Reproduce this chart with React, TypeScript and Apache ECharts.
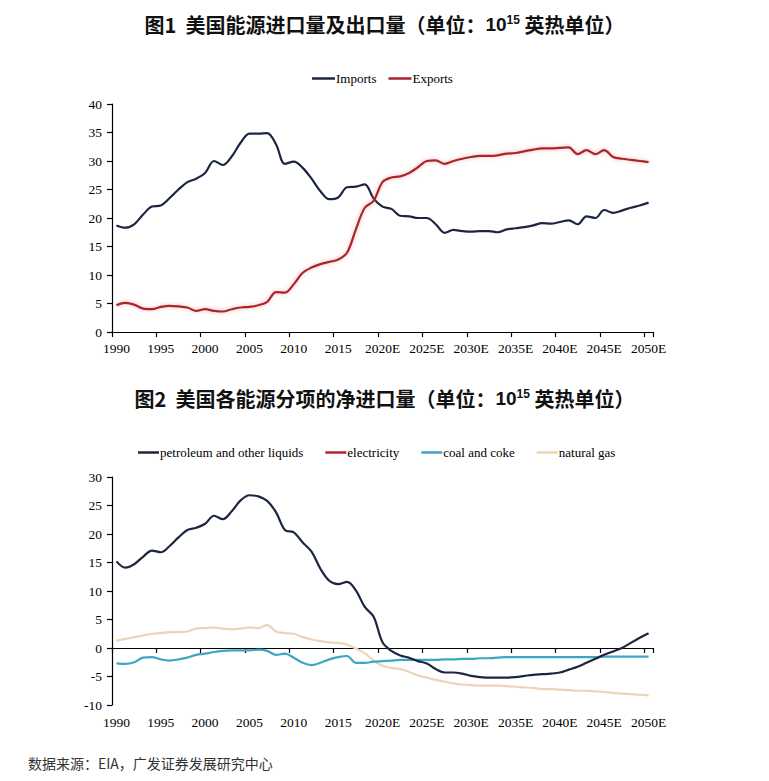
import React, { useEffect, useRef } from "react";
import * as echarts from "echarts";

const years = [
  "1990", "1991", "1992", "1993", "1994", "1995", "1996", "1997", "1998", "1999",
  "2000", "2001", "2002", "2003", "2004", "2005", "2006", "2007", "2008", "2009",
  "2010", "2011", "2012", "2013", "2014", "2015", "2016", "2017", "2018", "2019",
  "2020E", "2021E", "2022E", "2023E", "2024E", "2025E", "2026E", "2027E", "2028E", "2029E",
  "2030E", "2031E", "2032E", "2033E", "2034E", "2035E", "2036E", "2037E", "2038E", "2039E",
  "2040E", "2041E", "2042E", "2043E", "2044E", "2045E", "2046E", "2047E", "2048E", "2049E",
  "2050E",
];

const imports = [
  18.7, 18.3, 18.9, 20.6, 22.0, 22.2, 23.5, 25.0, 26.3, 26.9,
  27.9, 30.0, 29.3, 30.8, 33.2, 34.8, 34.8, 34.9, 32.9, 29.5,
  29.9, 28.8, 26.9, 24.7, 23.3, 23.6, 25.4, 25.5, 25.9, 23.4,
  22.0, 21.6, 20.4, 20.3, 20.0, 20.0, 18.9, 17.4, 17.9, 17.7,
  17.6, 17.7, 17.7, 17.5, 18.0, 18.2, 18.4, 18.7, 19.1, 19.0,
  19.3, 19.6, 18.9, 20.3, 20.0, 21.4, 20.9, 21.3, 21.8, 22.2,
  22.7,
];

const exportsData = [
  4.7, 5.1, 4.8, 4.1, 4.0, 4.4, 4.6, 4.5, 4.3, 3.7,
  4.0, 3.7, 3.6, 4.0, 4.3, 4.4, 4.7, 5.3, 7.0, 6.9,
  8.4, 10.4, 11.3, 11.9, 12.3, 12.7, 13.9, 18.0, 21.8, 23.0,
  26.3, 27.1, 27.3, 27.9, 28.9, 30.0, 30.1, 29.5, 30.0, 30.4,
  30.7, 30.9, 30.9, 31.0, 31.3, 31.4, 31.7, 32.0, 32.2, 32.2,
  32.3, 32.4, 31.2, 31.9, 31.2, 31.9, 30.7, 30.4, 30.2, 30.0,
  29.8,
];

const petroleum = [
  15.2, 14.1, 14.7, 16.0, 17.1, 16.8, 17.9, 19.4, 20.7, 21.1,
  21.8, 23.2, 22.6, 24.0, 25.9, 26.8, 26.6, 25.8, 23.8, 20.7,
  20.3, 18.5, 16.9, 13.9, 11.8, 11.2, 11.6, 10.1, 7.2, 5.5,
  1.0, -0.5, -1.3, -1.7, -2.3, -2.7, -3.7, -4.3, -4.3, -4.5,
  -4.9, -5.1, -5.2, -5.2, -5.2, -5.1, -4.9, -4.7, -4.6, -4.5,
  -4.3, -3.8, -3.3, -2.6, -1.9, -1.2, -0.6, 0.0, 0.9, 1.8,
  2.6,
];

const electricity = [
  0.1, 0.1, 0.1, 0.1, 0.1, 0.1, 0.1, 0.1, 0.1, 0.1,
  0.1, 0.1, 0.1, 0.1, 0.1, 0.1, 0.1, 0.1, 0.1, 0.1,
  0.1, 0.1, 0.1, 0.1, 0.1, 0.1, 0.1, 0.1, 0.1, 0.1,
  0.1, 0.1, 0.1, 0.1, 0.1, 0.1, 0.1, 0.1, 0.1, 0.1,
  0.1, 0.1, 0.1, 0.1, 0.1, 0.1, 0.1, 0.1, 0.1, 0.1,
  0.1, 0.1, 0.1, 0.1, 0.1, 0.1, 0.1, 0.1, 0.1, 0.1,
  0.1,
];

const coal = [
  -2.7, -2.8, -2.5, -1.7, -1.6, -2.0, -2.2, -2.0, -1.7, -1.2,
  -1.0, -0.7, -0.5, -0.4, -0.4, -0.4, -0.3, -0.5, -1.2, -1.0,
  -1.7, -2.6, -3.0, -2.6, -2.0, -1.6, -1.4, -2.6, -2.6, -2.4,
  -2.3, -2.2, -2.1, -2.1, -2.1, -2.1, -2.1, -2.0, -2.0, -1.9,
  -1.9, -1.8, -1.8, -1.7, -1.6, -1.6, -1.6, -1.6, -1.6, -1.6,
  -1.6, -1.6, -1.6, -1.6, -1.6, -1.5, -1.5, -1.5, -1.5, -1.5,
  -1.5,
];

const naturalGas = [
  1.3, 1.6, 1.9, 2.2, 2.5, 2.6, 2.8, 2.8, 2.9, 3.4,
  3.5, 3.6, 3.4, 3.3, 3.4, 3.6, 3.5, 4.0, 2.9, 2.6,
  2.5, 1.9, 1.5, 1.2, 1.0, 0.9, 0.6, -0.1, -0.9, -2.2,
  -3.1, -3.5, -3.7, -4.2, -4.8, -5.2, -5.6, -5.9, -6.2, -6.4,
  -6.5, -6.6, -6.6, -6.6, -6.7, -6.8, -6.9, -7.0, -7.2, -7.2,
  -7.3, -7.4, -7.5, -7.5, -7.6, -7.7, -7.9, -8.0, -8.1, -8.2,
  -8.3,
];

const Y1_TICKS = { min: 0, max: 40, interval: 5 };
const Y2_TICKS = { min: -10, max: 30, interval: 5 };

const serif = "Liberation Serif";
const cjk = "Noto Sans CJK SC";

function titleText(label: string, body: string) {
  return `{a|${label}  ${body}（单位：}{b|10}{s|15}{a| 英热单位）}`;
}

const titleRich = {
  a: { fontSize: 20, fontWeight: "bold", fontFamily: cjk, color: "#111" },
  b: { fontSize: 19, fontWeight: "bold", fontFamily: "Liberation Sans", color: "#111" },
  s: {
    fontSize: 12,
    fontWeight: "bold",
    fontFamily: "Liberation Sans",
    color: "#111",
    verticalAlign: "top",
    padding: [0, 0, 8, 0],
  },
};

export default function App() {
  const ref = useRef<HTMLDivElement>(null);

  useEffect(() => {
    if (!ref.current) return;
    const chart = echarts.init(ref.current, undefined, { renderer: "svg" });

    const axisLineStyle = { color: "#000", width: 1.2 };
    const axisLabelStyle = { fontFamily: serif, fontSize: 13.5, color: "#000" };

    const catAxisBase = {
      type: "category" as const,
      data: years,
      boundaryGap: true,
    };

    const option: any = {
      animation: false,
      backgroundColor: "#fff",
      title: [
        {
          text: titleText("图1", "美国能源进口量及出口量"),
          left: "center",
          top: 9,
          textStyle: { rich: titleRich },
        },
        {
          text: titleText("图2", "美国各能源分项的净进口量"),
          left: "center",
          top: 383,
          textStyle: { rich: titleRich },
        },
      ],
      legend: [
        {
          data: ["Imports", "Exports"],
          left: 307,
          top: 67,
          icon: "rect",
          itemWidth: 23,
          itemHeight: 2.5,
          itemGap: 12,
          textStyle: { fontFamily: serif, fontSize: 13, color: "#000", padding: [0, 0, 0, -4] },
        },
        {
          data: ["petroleum and other liquids", "electricity", "coal and coke", "natural gas"],
          left: 133,
          top: 441,
          icon: "rect",
          itemWidth: 21,
          itemHeight: 2.5,
          itemGap: 22,
          textStyle: { fontFamily: serif, fontSize: 13, color: "#000", padding: [0, 0, 0, -4] },
        },
      ],
      grid: [
        { left: 112, top: 104, width: 541, height: 228 },
        { left: 112, top: 477, width: 541, height: 228 },
      ],
      xAxis: [
        {
          ...catAxisBase,
          gridIndex: 0,
          axisLine: { show: true, lineStyle: axisLineStyle },
          axisTick: { show: true, interval: 4, alignWithLabel: false, length: 5, lineStyle: axisLineStyle },
          axisLabel: { ...axisLabelStyle, interval: 4, margin: 9 },
          splitLine: { show: false },
        },
        {
          ...catAxisBase,
          gridIndex: 1,
          axisLine: { show: true, onZero: true, lineStyle: axisLineStyle },
          axisTick: { show: true, interval: 4, alignWithLabel: false, length: 5, lineStyle: axisLineStyle },
          axisLabel: { show: false },
          splitLine: { show: false },
        },
        {
          ...catAxisBase,
          gridIndex: 1,
          position: "bottom",
          axisLine: { show: false, onZero: false },
          axisTick: { show: false },
          axisLabel: { ...axisLabelStyle, interval: 4, margin: 10 },
          splitLine: { show: false },
        },
      ],
      yAxis: [
        {
          type: "value",
          gridIndex: 0,
          ...Y1_TICKS,
          axisLine: { show: true, lineStyle: axisLineStyle },
          axisTick: { show: true, length: 5, lineStyle: axisLineStyle },
          axisLabel: { ...axisLabelStyle, margin: 10 },
          splitLine: { show: false },
        },
        {
          type: "value",
          gridIndex: 1,
          ...Y2_TICKS,
          axisLine: { show: true, lineStyle: axisLineStyle },
          axisTick: { show: true, length: 5, lineStyle: axisLineStyle },
          axisLabel: { ...axisLabelStyle, margin: 10 },
          splitLine: { show: false },
        },
      ],
      series: [
        {
          name: "Imports",
          type: "line",
          xAxisIndex: 0,
          yAxisIndex: 0,
          data: imports,
          smooth: 0.35,
          symbol: "none",
          itemStyle: { color: "#1c2641" },
          lineStyle: { color: "#1c2641", width: 2.2 },
        },
        {
          name: "Exports",
          type: "line",
          xAxisIndex: 0,
          yAxisIndex: 0,
          data: exportsData,
          smooth: 0.35,
          symbol: "none",
          itemStyle: { color: "#a8252b" },
          lineStyle: {
            color: "#a8252b",
            width: 2.2,
            shadowColor: "rgba(230,110,120,0.55)",
            shadowBlur: 4,
          },
        },
        {
          name: "natural gas",
          type: "line",
          xAxisIndex: 1,
          yAxisIndex: 1,
          data: naturalGas,
          smooth: 0.35,
          symbol: "none",
          itemStyle: { color: "#eed3b9" },
          lineStyle: { color: "#eed3b9", width: 2.2 },
          z: 2,
        },
        {
          name: "coal and coke",
          type: "line",
          xAxisIndex: 1,
          yAxisIndex: 1,
          data: coal,
          smooth: 0.35,
          symbol: "none",
          itemStyle: { color: "#3ea6c4" },
          lineStyle: { color: "#3ea6c4", width: 2.2 },
          z: 3,
        },
        {
          name: "electricity",
          type: "line",
          xAxisIndex: 1,
          yAxisIndex: 1,
          data: electricity,
          smooth: 0.35,
          symbol: "none",
          itemStyle: { color: "#b5262c" },
          lineStyle: {
            color: "#b5262c",
            width: 2.2,
            shadowColor: "rgba(230,110,120,0.5)",
            shadowBlur: 3,
          },
          z: 4,
        },
        {
          name: "petroleum and other liquids",
          type: "line",
          xAxisIndex: 1,
          yAxisIndex: 1,
          data: petroleum,
          smooth: 0.35,
          symbol: "none",
          itemStyle: { color: "#1c2641" },
          lineStyle: { color: "#1c2641", width: 2.2 },
          z: 5,
        },
      ],
      graphic: [
        {
          type: "text",
          left: 28,
          top: 756,
          style: {
            text: "数据来源：EIA，广发证券发展研究中心",
            fontFamily: cjk,
            fontSize: 14,
            fill: "#333",
          },
        },
      ],
    };

    chart.setOption(option);
    return () => chart.dispose();
  }, []);

  return (
    <div
      ref={ref}
      style={{ position: "fixed", left: 0, top: 0, width: 769, height: 781, background: "#fff" }}
    />
  );
}
